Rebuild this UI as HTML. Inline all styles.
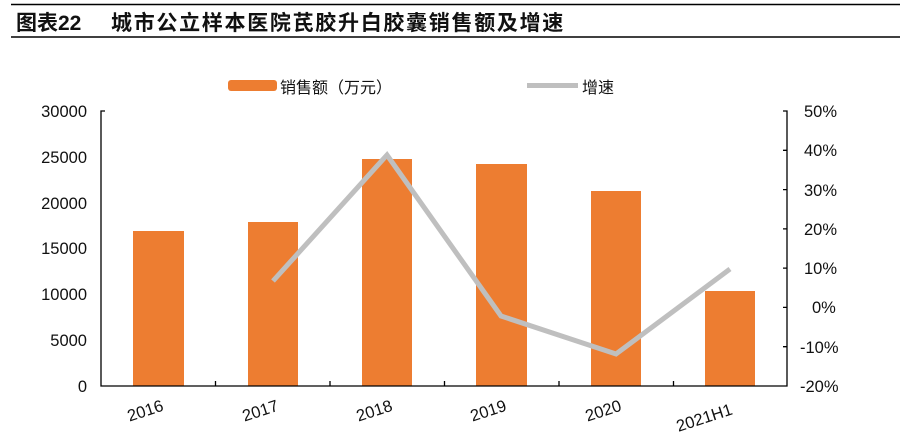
<!DOCTYPE html><html><head><meta charset="utf-8"><style>body{margin:0;background:#fff;width:900px;height:441px;overflow:hidden}</style></head><body>
<svg width="900" height="441" xmlns="http://www.w3.org/2000/svg" font-family="'Liberation Sans','Noto Sans CJK SC',sans-serif">
<line x1="11" y1="4.5" x2="900" y2="4.5" stroke="#000" stroke-width="1.5"/>
<line x1="11" y1="37" x2="900" y2="37" stroke="#000" stroke-width="1.5"/>
<text x="16" y="30" font-size="21" font-weight="bold" fill="#111">图表22</text>
<text x="111" y="30" font-size="21" font-weight="bold" fill="#111" letter-spacing="1.7">城市公立样本医院芪胶升白胶囊销售额及增速</text>
<rect x="228" y="80" width="49" height="11" rx="3" fill="#ed7d31"/>
<text x="280" y="93" font-size="16" fill="#111">销售额（万元）</text>
<line x1="527" y1="85.5" x2="578" y2="85.5" stroke="#bfbfbf" stroke-width="5"/>
<text x="582" y="93" font-size="16" fill="#111">增速</text>
<g fill="#ed7d31">
<rect x="133" y="231" width="51" height="155"/>
<rect x="248" y="222" width="50" height="164"/>
<rect x="362" y="159" width="50" height="227"/>
<rect x="476" y="164" width="51" height="222"/>
<rect x="591" y="191" width="50" height="195"/>
<rect x="705" y="291" width="50" height="95"/>
</g>
<polyline points="273,281 387,155 501,316 616,354 730,269" fill="none" stroke="#bfbfbf" stroke-width="5" stroke-linejoin="miter"/>
<g stroke="#000" stroke-width="1.3" fill="none">
<path d="M105,111 H101 V386 H787 V111 H783"/>
<path d="M783,150.3H787M783,189.6H787M783,228.9H787M783,268.1H787M783,307.4H787M783,346.7H787"/>
<path d="M215.5,386V381M330,386V381M444.5,386V381M559,386V381M673.5,386V381"/>
</g>
<g font-size="16.5" fill="#111" text-anchor="end">
<text x="87" y="117">30000</text><text x="87" y="163">25000</text><text x="87" y="209">20000</text><text x="87" y="254">15000</text><text x="87" y="300">10000</text><text x="87" y="346">5000</text><text x="87" y="392">0</text>
</g>
<g font-size="16.5" fill="#111">
<text x="804" y="117">50%</text><text x="804" y="156">40%</text><text x="804" y="196">30%</text><text x="804" y="235">20%</text><text x="804" y="274">10%</text><text x="812" y="313">0%</text><text x="800" y="353">-10%</text><text x="800" y="392">-20%</text>
</g>
<g font-size="16.5" fill="#111" text-anchor="middle">
<text transform="translate(147,416) rotate(-18)">2016</text>
<text transform="translate(262,416) rotate(-18)">2017</text>
<text transform="translate(376,416) rotate(-18)">2018</text>
<text transform="translate(490,416) rotate(-18)">2019</text>
<text transform="translate(605,416) rotate(-18)">2020</text>
<text transform="translate(706,423) rotate(-18)">2021H1</text>
</g>
</svg></body></html>
